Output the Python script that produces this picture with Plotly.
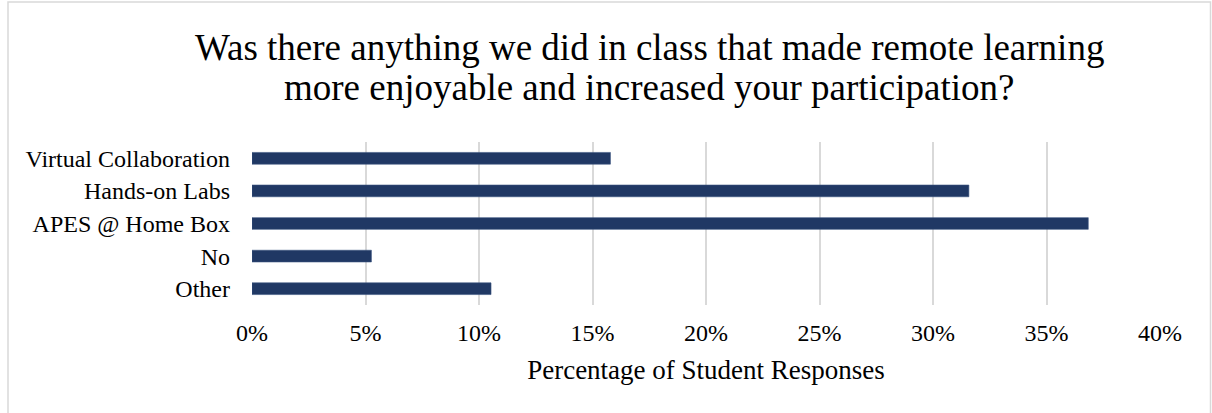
import plotly.graph_objects as go

# Survey responses (share of students choosing each option)
categories = ["Virtual Collaboration", "Hands-on Labs", "APES @ Home Box", "No", "Other"]
shares = [0.1579, 0.3158, 0.3684, 0.0526, 0.1053]
tick_vals = [0, 0.05, 0.10, 0.15, 0.20, 0.25, 0.30, 0.35, 0.40]
tick_text = ["0%", "5%", "10%", "15%", "20%", "25%", "30%", "35%", "40%"]

title_lines = [
    "Was there anything we did in class that made remote learning",
    "more enjoyable and increased your participation?",
]
x_title = "Percentage of Student Responses"

FONT = "Liberation Serif, Times New Roman, serif"
BAR = "#203864"
GRID = "#d9d9d9"
W, H = 1212, 413

fig = go.Figure(
    go.Bar(
        x=shares,
        y=categories,
        orientation="h",
        width=0.36,
        marker=dict(color=BAR, line=dict(color="#3a5480", width=0.6)),
        hoverinfo="x+y",
    )
)

# two-line title set as separate lines for tighter leading
title_annotations = [
    dict(text=line, xref="paper", yref="paper",
         x=(649 - 252) / 908, y=(305 - cy) / 163,
         xanchor="center", yanchor="middle", showarrow=False,
         font=dict(family=FONT, size=37, color="#000000"))
    for line, cy in zip(title_lines, [47, 88])
]

fig.update_layout(
    width=W,
    height=H,
    margin=dict(l=252, r=52, t=142, b=108),
    paper_bgcolor="white",
    plot_bgcolor="white",
    showlegend=False,
    font=dict(family=FONT, color="#000000"),
    annotations=title_annotations,
    xaxis=dict(
        range=[0, 0.40],
        tickvals=tick_vals,
        ticktext=tick_text,
        showgrid=True,
        gridcolor=GRID,
        gridwidth=1.5,
        zeroline=False,
        showline=False,
        ticks="",
        tickfont=dict(family=FONT, size=24, color="#000000"),
        ticklabelstandoff=11,
        title=dict(text=x_title, font=dict(family=FONT, size=27, color="#000000"), standoff=15),
        fixedrange=True,
    ),
    yaxis=dict(
        categoryorder="array",
        categoryarray=categories[::-1],
        showgrid=False,
        zeroline=False,
        showline=False,
        ticks="",
        ticklabelstandoff=21,
        tickfont=dict(family=FONT, size=24, color="#000000"),
        fixedrange=True,
    ),
    shapes=[
        # chart frame
        dict(type="rect", xref="paper", yref="paper",
             x0=(8 - 252) / 908, x1=(1210.5 - 252) / 908,
             y0=-0.8, y1=(305 - 2) / 163,
             line=dict(color=GRID, width=1.5), fillcolor="rgba(0,0,0,0)", layer="below"),
    ],
)

fig.write_html("out.html")
